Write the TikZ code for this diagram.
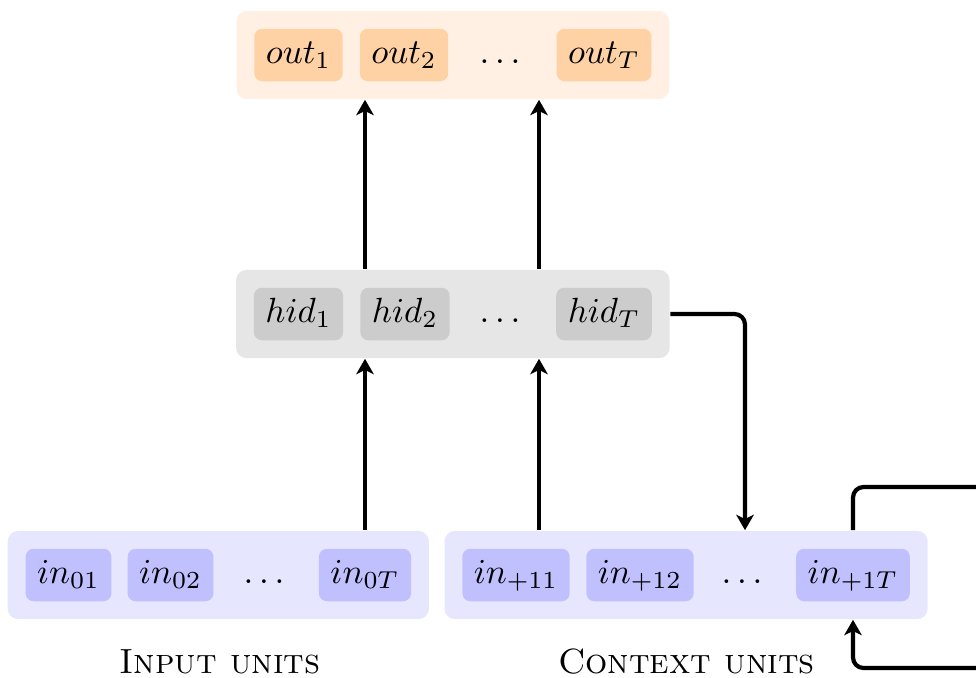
\documentclass[tikz,border=0pt]{standalone}
\usetikzlibrary{fit,backgrounds,arrows.meta}
\definecolor{outin}{HTML}{FFD2A6}
\definecolor{outout}{HTML}{FFF0E3}
\definecolor{hidin}{HTML}{CCCCCC}
\definecolor{hidout}{HTML}{E6E6E6}
\definecolor{inin}{HTML}{C0C0FF}
\definecolor{inout}{HTML}{E6E6FF}
\begin{document}
\begin{tikzpicture}[x=0.285714pt,y=-0.285714pt,
  unit/.style={rounded corners=2.3pt,inner xsep=3.3pt,inner ysep=2pt,minimum height=15pt,text height=6.9pt,text depth=2pt},
  outunit/.style={unit,fill=outin},
  hidunit/.style={unit,fill=hidin},
  inunit/.style={unit,fill=inin},
  dotsnode/.style={unit},
  layer/.style={rounded corners=3pt,inner sep=4.9pt},
  arr/.style={very thick,-{Stealth[length=4.4pt,width=5pt,inset=1.2pt]}},
  lbl/.style={anchor=base}]
\clip (0,0) rectangle (976,677);
% output layer
\node[outunit] (o1) at (298.5,55) {$out_1$};
\node[outunit] (o2) at (404,55) {$out_2$};
\node[dotsnode] (od) at (500,55) {$\ldots$};
\node[outunit] (oT) at (604,55) {$out_T$};
% hidden layer
\node[hidunit] (h1) at (298.5,314) {$hid_1$};
\node[hidunit] (h2) at (405,314) {$hid_2$};
\node[dotsnode] (hd) at (500,314) {$\ldots$};
\node[hidunit] (hT) at (604,314) {$hid_T$};
% input layer
\node[inunit] (i1) at (68.5,575) {$in_{01}$};
\node[inunit] (i2) at (170.5,575) {$in_{02}$};
\node[dotsnode] (id) at (264,575) {$\ldots$};
\node[inunit] (iT) at (365,575) {$in_{0T}$};
% context layer
\node[inunit] (c1) at (516,575) {$in_{+11}$};
\node[inunit] (c2) at (640,575) {$in_{+12}$};
\node[dotsnode] (cd) at (742,575) {$\ldots$};
\node[inunit] (cT) at (853,575) {$in_{+1T}$};
\begin{scope}[on background layer]
\node[layer,fill=outout,fit=(o1)(oT)] (outbox) {};
\node[layer,fill=hidout,fit=(h1)(hT)] (hidbox) {};
\node[layer,fill=inout,fit=(i1)(iT)] (inbox) {};
\node[layer,fill=inout,fit=(c1)(cT)] (ctxbox) {};
\end{scope}
% labels
\node[lbl] (inlbl) at (220,673) {\textsc{Input units}};
\node[lbl] (ctxlbl) at (686.5,673) {\textsc{Context units}};
% arrows
\coordinate (xa) at (365,0);
\coordinate (xb) at (539,0);
\coordinate (xc) at (745,0);
\draw[arr] (hidbox.north -| xa) -- (outbox.south -| xa);
\draw[arr] (hidbox.north -| xb) -- (outbox.south -| xb);
\draw[arr] (inbox.north -| xa) -- (hidbox.south -| xa);
\draw[arr] (ctxbox.north -| xb) -- (hidbox.south -| xb);
\draw[arr,rounded corners=3pt] (hidbox.east |- hT) -| (ctxbox.north -| xc);
\coordinate (lp1) at (1010,487);
\coordinate (lp2) at (1010,668);
\draw[arr,rounded corners=3pt] (ctxbox.north -| cT) |- (lp1) -- (lp2) -| (ctxbox.south -| cT);
\end{tikzpicture}
\end{document}
